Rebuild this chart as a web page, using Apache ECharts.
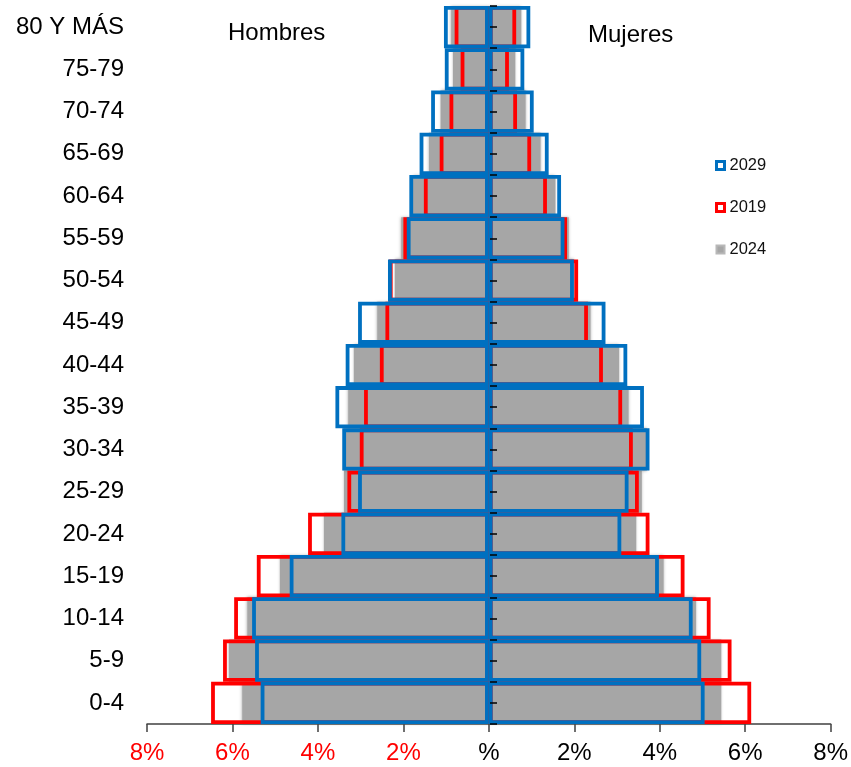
<!DOCTYPE html>
<html>
<head>
<meta charset="utf-8">
<script src="https://cdn.jsdelivr.net/npm/echarts@6/dist/echarts.min.js"></script>
<style>html,body{margin:0;padding:0;background:#fff;}#chart{width:851px;height:767px;}</style>
</head>
<body>
<div id="chart"></div>
<script>
// Age groups, bottom to top
var categories = ['0-4','5-9','10-14','15-19','20-24','25-29','30-34','35-39','40-44','45-49','50-54','55-59','60-64','65-69','70-74','75-79','80 Y MÁS'];
// Values in % of population (men negative)
var hombres2029 = [-5.34,-5.47,-5.54,-4.66,-3.45,-3.06,-3.43,-3.59,-3.35,-3.06,-2.36,-1.92,-1.86,-1.62,-1.35,-1.03,-1.05];
var hombres2019 = [-6.50,-6.22,-5.96,-5.43,-4.23,-3.31,-3.02,-2.92,-2.55,-2.42,-2.34,-2.00,-1.52,-1.15,-0.92,-0.66,-0.80];
var hombres2024 = [-5.77,-6.08,-5.65,-4.89,-3.86,-3.39,-3.40,-3.29,-3.16,-2.61,-2.20,-2.05,-1.78,-1.40,-1.13,-0.84,-0.88];
var mujeres2029 = [5.05,4.97,4.77,3.98,3.10,3.27,3.76,3.63,3.24,2.73,1.99,1.77,1.69,1.40,1.05,0.83,0.97];
var mujeres2019 = [6.14,5.68,5.19,4.58,3.76,3.51,3.37,3.12,2.67,2.32,2.09,1.83,1.36,0.99,0.66,0.47,0.64];
var mujeres2024 = [5.44,5.44,4.85,4.09,3.45,3.58,3.70,3.27,3.05,2.38,2.00,1.87,1.56,1.21,0.86,0.62,0.76];
var xTicks = [-8,-6,-4,-2,0,2,4,6,8];
var legendNames = ['2029','2019','2024'];

var FONT = '"Liberation Sans", Arial, sans-serif';
var BLUE = '#0070c0', RED = '#ff0000', GRAY = '#a6a6a6';

function graySeries(data) {
  return {name:'2024', type:'bar', data:data, barGap:'-100%', barCategoryGap:'0%', z:2,
    itemStyle:{color:GRAY, shadowBlur:3, shadowColor:'rgba(110,110,110,0.6)'}, silent:true};
}
function outlineSeries(name, color, data, z) {
  return {name:name, type:'bar', data:data, barGap:'-100%', barCategoryGap:'0%', z:z,
    itemStyle:{color:'rgba(0,0,0,0)', borderColor:color, borderWidth:3.8}, silent:true};
}

var chart = echarts.init(document.getElementById('chart'), null, {renderer:'canvas'});
chart.setOption({
  animation:false,
  backgroundColor:'#fff',
  grid:{left:147, right:18, top:6, bottom:43, containLabel:false},
  legend:{
    orient:'vertical', left:715, top:157, padding:0, itemGap:25, itemWidth:8, itemHeight:8,
    icon:'rect',
    textStyle:{fontFamily:FONT, fontSize:16.5, color:'#111', lineHeight:17},
    data:[
      {name:legendNames[0], itemStyle:{color:'#fff', borderColor:BLUE, borderWidth:3}},
      {name:legendNames[1], itemStyle:{color:'#fff', borderColor:RED, borderWidth:3}},
      {name:legendNames[2], itemStyle:{color:GRAY, borderColor:'#b8b8b8', borderWidth:2}}
    ],
    selectedMode:false
  },
  xAxis:{
    type:'value', min:xTicks[0], max:xTicks[xTicks.length-1], interval:2,
    axisLine:{show:true, lineStyle:{color:'#404040', width:1.5}},
    axisTick:{show:true, length:8, lineStyle:{color:'#404040', width:1.5}},
    splitLine:{show:false},
    axisLabel:{
      fontFamily:FONT, fontSize:24, margin:17,
      formatter:function(v){ return v === 0 ? '%' : Math.abs(v) + '%'; },
      color:function(v){ return Number(v) < 0 ? RED : '#000'; }
    }
  },
  yAxis:[
    {type:'category', data:categories, position:'left',
      axisLine:{show:false}, axisTick:{show:false},
      axisLabel:{fontFamily:FONT, fontSize:24, color:'#000', margin:23}},
    {type:'category', data:categories, position:'left', offset:-343, z:10,
      axisLine:{show:true, lineStyle:{color:BLUE, width:1}},
      axisTick:{show:true, inside:true, length:7, lineStyle:{color:'#000', width:1.5}},
      axisLabel:{show:false}},
    {type:'category', data:categories, position:'left', offset:-343, z:10,
      axisLine:{show:false},
      axisTick:{show:true, inside:true, alignWithLabel:true, length:7, lineStyle:{color:'#000', width:1.5}},
      axisLabel:{show:false}}
  ],
  graphic:[
    {type:'text', left:228, top:21, style:{text:'Hombres', font:'24px ' + FONT, fill:'#000'}},
    {type:'text', left:588, top:23, style:{text:'Mujeres', font:'24px ' + FONT, fill:'#000'}}
  ],
  series:[
    graySeries(hombres2024),
    graySeries(mujeres2024),
    outlineSeries('2019', RED, hombres2019, 3),
    outlineSeries('2019', RED, mujeres2019, 3),
    outlineSeries('2029', BLUE, hombres2029, 4),
    outlineSeries('2029', BLUE, mujeres2029, 4)
  ]
});
</script>
</body>
</html>
